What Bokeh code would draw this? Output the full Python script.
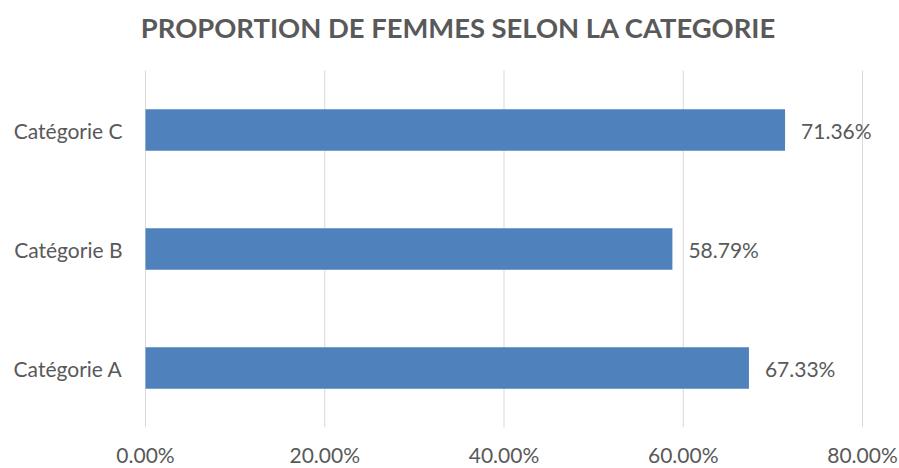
from bokeh.plotting import figure
from bokeh.models import ColumnDataSource, FixedTicker, NumeralTickFormatter, Range1d, LabelSet, Label
from bokeh.core.properties import value
from bokeh.embed import file_html
from bokeh.resources import INLINE

title_text = "PROPORTION DE FEMMES SELON LA CATEGORIE"
categories = ["Catégorie A", "Catégorie B", "Catégorie C"]
proportions = [0.6733, 0.5879, 0.7136]
labels = ["67.33%", "58.79%", "71.36%"]
x_ticks = [0.0, 0.2, 0.4, 0.6, 0.8]

FONT = "Lato"
GRAY = "#595959"

ypos = [i + 0.5 for i in range(len(categories))]
src = ColumnDataSource(dict(y=ypos, val=proportions, lab=labels))
n = len(categories)

# frame: x from 130 to 885 px (0 -> 145 px, 0.8 -> 862 px); y from 0 to 427 px (categories in 70..427)
px_per_unit = 717 / 0.8
x_start = -15 / px_per_unit
x_end = 0.8 + 23 / px_per_unit
band_px = 357 / n
y_end = n + 70 / band_px

p = figure(x_range=Range1d(x_start, x_end), y_range=Range1d(0, y_end),
           width=899, height=468, output_backend="svg", toolbar_location=None,
           min_border_left=130, min_border_right=14, min_border_top=0, min_border_bottom=41,
           frame_width=755, frame_height=427)
p.outline_line_color = None
p.background_fill_color = "white"
p.xgrid.grid_line_color = None
p.ygrid.grid_line_color = None

# vertical gridlines spanning the category area
p.segment(x0=x_ticks, y0=[0] * len(x_ticks), x1=x_ticks, y1=[n] * len(x_ticks),
          line_color="#d9d9d9", line_width=1)

p.hbar(y="y", right="val", height=0.35, left=0, source=src,
       fill_color="#4f81bd", line_color=None)
p.add_layout(LabelSet(x="val", y="y", text="lab", source=src, x_offset=16,
                      text_baseline="middle", text_align="left",
                      text_font=value(FONT), text_font_size="21px", text_color=GRAY))

p.add_layout(Label(x=(458 - 145) / px_per_unit, y=n + (70 - 27) / band_px, text=title_text,
                   text_align="center", text_baseline="alphabetic",
                   text_font=FONT, text_font_size="27.4px", text_font_style="bold",
                   text_color=GRAY))

p.xaxis.ticker = FixedTicker(ticks=x_ticks)
p.xaxis.formatter = NumeralTickFormatter(format="0.00%")
p.xaxis.axis_line_color = None
p.xaxis.major_tick_line_color = None
p.xaxis.minor_tick_line_color = None
p.xaxis.major_label_text_font = FONT
p.xaxis.major_label_text_font_size = "21px"
p.xaxis.major_label_text_color = GRAY
p.xaxis.major_label_standoff = 8

p.yaxis.ticker = FixedTicker(ticks=ypos)
p.yaxis.major_label_overrides = {y: c for y, c in zip(ypos, categories)}
p.yaxis.axis_line_color = None
p.yaxis.major_tick_line_color = None
p.yaxis.minor_tick_line_color = None
p.yaxis.major_label_text_font = FONT
p.yaxis.major_label_text_font_size = "21px"
p.yaxis.major_label_text_color = GRAY
p.yaxis.major_label_standoff = 2

open("out.html", "w").write(file_html(p, INLINE))
